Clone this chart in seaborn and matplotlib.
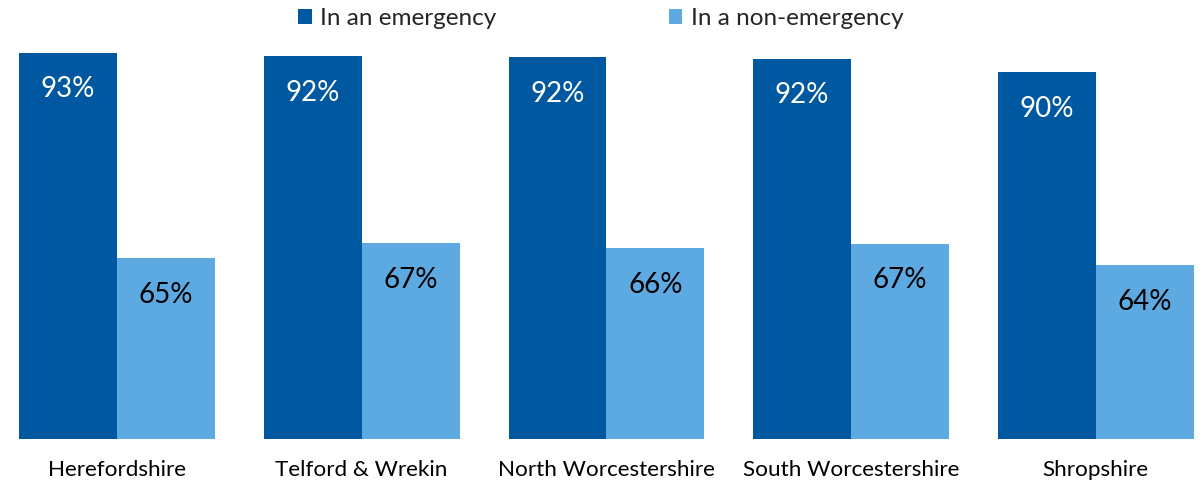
import matplotlib
matplotlib.use("Agg")
import matplotlib.pyplot as plt
import seaborn as sns
import pandas as pd

categories = ["Herefordshire", "Telford & Wrekin", "North Worcestershire",
              "South Worcestershire", "Shropshire"]
series_names = ["In an emergency", "In a non-emergency"]
emergency = [92.8, 92.3, 92.2, 92.0, 90.2]
non_emergency = [64.7, 66.8, 66.1, 66.7, 63.8]
colors = ["#0059A0", "#5DAAE2"]
label_colors = ["white", "black"]

sns.set_theme(style="white")
plt.rcParams["font.family"] = ["Lato", "DejaVu Sans"]

df = pd.DataFrame({
    "region": categories * 2,
    "series": [series_names[0]] * len(categories) + [series_names[1]] * len(categories),
    "value": emergency + non_emergency,
})

fig = plt.figure(figsize=(12.02, 4.83), dpi=100)
ax = fig.add_axes([0, 44 / 483, 1, 439 / 483])

sns.barplot(data=df, x="region", y="value", hue="series", order=categories,
            hue_order=series_names, palette=colors, width=0.8, saturation=1,
            ax=ax, linewidth=0)

for i, cont in enumerate(ax.containers):
    for bar, v in zip(cont, [emergency, non_emergency][i]):
        ax.annotate(f"{round(v)}%", (bar.get_x() + bar.get_width() / 2, bar.get_height()),
                    xytext=(0, -26.5), textcoords="offset points",
                    ha="center", va="center", fontsize=20, color=label_colors[i])

ax.set_ylim(40, 100)
ax.set_xlim(-0.478, 4.434)
ax.set_xlabel("")
ax.set_ylabel("")
ax.set_yticks([])
ax.tick_params(axis="x", length=0, labelsize=16.2, pad=15, colors="black")
for s in ax.spines.values():
    s.set_visible(False)

leg = ax.legend(loc="upper center", bbox_to_anchor=(0.5, 1.004), bbox_transform=fig.transFigure,
                ncol=2, frameon=False, fontsize=17.5, handlelength=0.55, handleheight=0.55,
                handletextpad=0.35, columnspacing=7.1, borderaxespad=0.0)

fig.savefig("out.png", dpi=100)
